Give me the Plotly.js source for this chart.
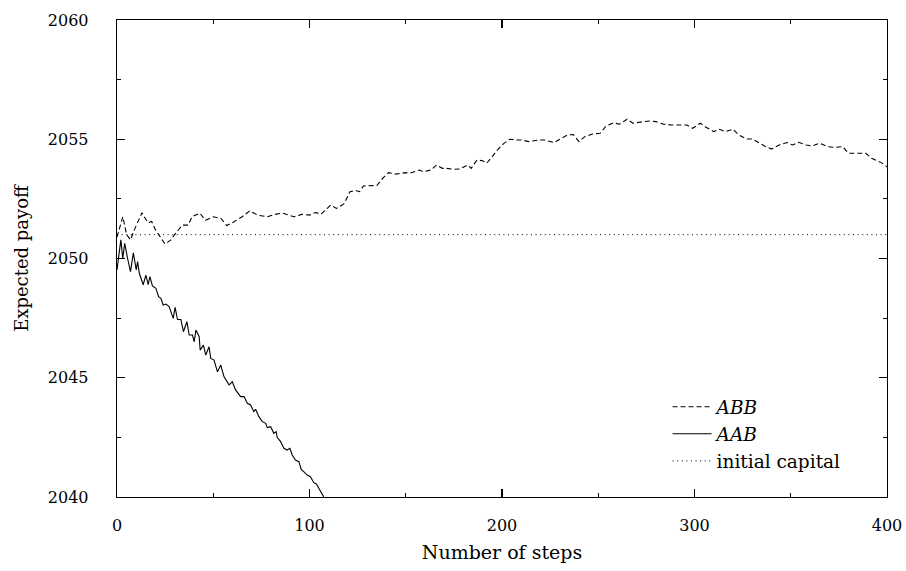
<!DOCTYPE html>
<html>
<head>
<meta charset="utf-8">
<script src="https://cdn.plot.ly/plotly-3.0.1.min.js"></script>
<style>html,body{margin:0;padding:0;background:#fff;}#chart{width:906px;height:571px;}</style>
</head>
<body>
<div id="chart"></div>
<script>
// ABB (dashed)
const abbSteps = [0,2,3,5,7,9,11,13,16,18,20,22,25,28,31,34,37,39,43,46,50,54,57,61,65,69,73,78,82,86,92,96,100,103,106,111,114,118,121,124,126,128,132,135,138,141,145,150,152,157,159,163,166,169,171,175,178,182,184,187,190,192,195,197,201,204,208,210,214,219,222,227,230,234,237,240,243,247,251,254,258,261,265,268,272,277,280,284,288,291,296,299,303,306,310,313,316,320,323,327,330,334,337,340,344,348,351,354,358,361,365,369,373,377,380,385,389,392,397,400];
const abbValues = [2050.9,2051.4,2051.75,2051.0,2050.78,2051.2,2051.6,2051.92,2051.5,2051.55,2051.2,2050.95,2050.6,2050.78,2051.12,2051.4,2051.4,2051.75,2051.9,2051.6,2051.75,2051.68,2051.38,2051.55,2051.75,2052.0,2051.82,2051.75,2051.85,2051.9,2051.75,2051.85,2051.82,2051.93,2051.86,2052.24,2052.1,2052.3,2052.8,2052.85,2052.8,2053.04,2053.04,2053.06,2053.36,2053.6,2053.54,2053.6,2053.57,2053.71,2053.64,2053.71,2053.92,2053.78,2053.78,2053.74,2053.75,2053.92,2053.78,2054.13,2054.1,2053.99,2054.27,2054.5,2054.83,2055.0,2054.97,2054.97,2054.9,2054.97,2054.97,2054.86,2055.0,2055.18,2055.2,2054.9,2055.11,2055.22,2055.25,2055.55,2055.69,2055.63,2055.84,2055.67,2055.72,2055.77,2055.74,2055.63,2055.6,2055.6,2055.6,2055.46,2055.67,2055.5,2055.32,2055.42,2055.32,2055.42,2055.18,2055.01,2055.01,2054.83,2054.69,2054.59,2054.76,2054.86,2054.76,2054.87,2054.76,2054.72,2054.83,2054.69,2054.66,2054.69,2054.41,2054.41,2054.41,2054.2,2054.02,2053.85];

// AAB (solid)
const aabSteps = [0,2,3,4,5.5,7,8.5,10,10.7,11.6,13.6,15,16.2,17.1,18.4,20.2,21.6,22.8,24,25.4,27.1,29.2,30.2,31.4,33.2,34.5,36.3,37.5,39.2,40.1,41,42.7,43.2,44.9,46.1,47.8,48.7,50.4,52.2,53.9,55.6,58.2,59.9,61.6,64.2,66,67.7,69.4,71.1,72,73.7,75.5,77.2,78.1,79.8,81.5,82.7,83.2,85,86.7,88.4,89.8,91,92.7,94.5,95.7,97,98.8,100.5,102.2,103.6,104.8,106,107.4,110];
const aabValues = [2049.52,2050.78,2050.0,2050.64,2050.0,2049.45,2050.24,2049.52,2049.87,2049.38,2048.9,2049.3,2048.9,2049.24,2048.85,2048.75,2048.4,2048.33,2048.05,2048.09,2047.98,2047.49,2047.95,2047.44,2047.44,2046.93,2047.35,2046.79,2046.79,2046.51,2047.0,2046.72,2046.16,2046.37,2045.95,2046.3,2045.81,2045.74,2045.25,2045.53,2045.04,2044.7,2044.83,2044.49,2044.21,2044.21,2043.93,2043.86,2043.58,2043.68,2043.37,2043.16,2043.09,2042.91,2042.95,2042.67,2042.74,2042.5,2042.32,2042.04,2041.97,2042.04,2041.76,2041.55,2041.48,2041.16,2041.06,2040.92,2040.85,2040.6,2040.55,2040.36,2040.22,2040.0,2039.7];

// initial capital
const capitalSteps = [0, 400];
const capitalValues = [2051, 2051];

const seriesNames = ['<i>ABB</i>', '<i>AAB</i>', 'initial capital'];
const xTitle = 'Number of steps';
const yTitle = 'Expected payoff';

const FONT = 'DejaVu Serif';

const traces = [
  {x: abbSteps, y: abbValues, name: seriesNames[0], mode: 'lines',
   line: {color: '#000', width: 1.1, dash: '5px,3px'}},
  {x: aabSteps, y: aabValues, name: seriesNames[1], mode: 'lines',
   line: {color: '#000', width: 1.1}},
  {x: capitalSteps, y: capitalValues, name: seriesNames[2], mode: 'lines',
   line: {color: '#000', width: 1, dash: '1px,3.6px'}}
];

const axisCommon = {
  showgrid: false, zeroline: false, showline: true, linecolor: '#000', linewidth: 1.3,
  mirror: 'allticks', ticks: 'inside', ticklen: 8, tickwidth: 1.2, tickcolor: '#000',
  tickfont: {family: FONT, size: 16, color: '#000'}
};

const layout = {
  width: 906, height: 571,
  margin: {l: 117, r: 19, t: 20, b: 74},
  paper_bgcolor: '#fff', plot_bgcolor: '#fff',
  font: {family: FONT, size: 17, color: '#000'},
  showlegend: true,
  legend: {x: 0.715, y: 0.228, xanchor: 'left', yanchor: 'top', itemwidth: 39,
           bgcolor: 'rgba(0,0,0,0)', borderwidth: 0,
           font: {family: FONT, size: 18.5, color: '#000'}, tracegroupgap: 0},
  xaxis: Object.assign({}, axisCommon, {
    range: [0, 400], tickvals: [0, 100, 200, 300, 400], ticklabelstandoff: 13,
    minor: {ticks: 'inside', ticklen: 4, dtick: 50, tickcolor: '#000', tickwidth: 1.2},
    title: {text: xTitle, font: {family: FONT, size: 19}, standoff: 12}
  }),
  yaxis: Object.assign({}, axisCommon, {
    range: [2040, 2060], tickvals: [2040, 2045, 2050, 2055, 2060], ticklabelstandoff: 24,
    minor: {ticks: 'inside', ticklen: 4, dtick: 2.5, tickcolor: '#000', tickwidth: 1.2},
    title: {text: yTitle, font: {family: FONT, size: 18}, standoff: 14}
  })
};

Plotly.newPlot('chart', traces, layout, {displayModeBar: false, staticPlot: true});
</script>
</body>
</html>
